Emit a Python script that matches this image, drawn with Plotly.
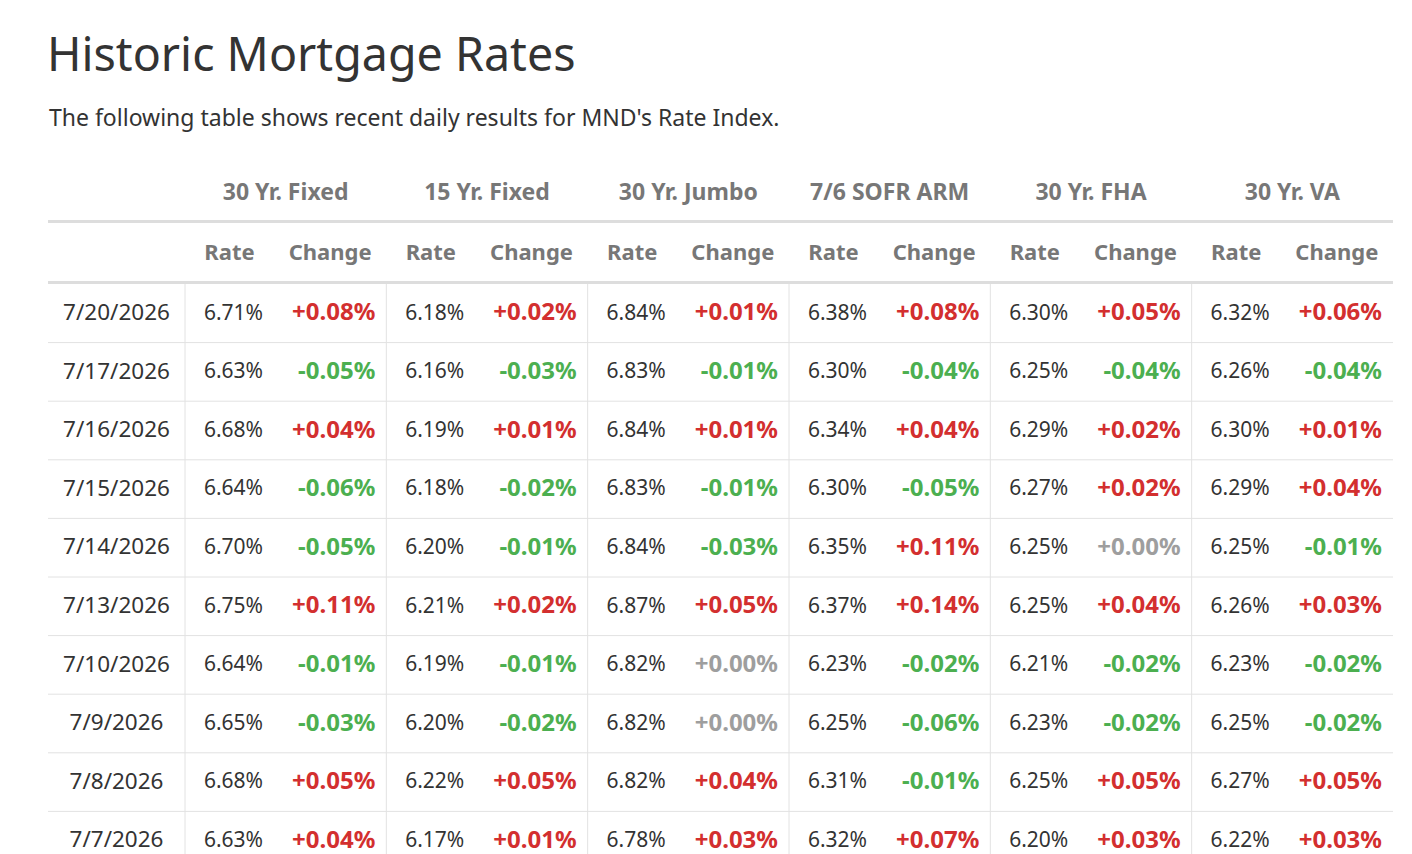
import plotly.graph_objects as go

dates = ["7/20/2026", "7/17/2026", "7/16/2026", "7/15/2026", "7/14/2026",
         "7/13/2026", "7/10/2026", "7/9/2026", "7/8/2026", "7/7/2026"]

products = ["30 Yr. Fixed", "15 Yr. Fixed", "30 Yr. Jumbo",
            "7/6 SOFR ARM", "30 Yr. FHA", "30 Yr. VA"]

rate_30_fixed = [6.71, 6.63, 6.68, 6.64, 6.70, 6.75, 6.64, 6.65, 6.68, 6.63]
chg_30_fixed = [0.08, -0.05, 0.04, -0.06, -0.05, 0.11, -0.01, -0.03, 0.05, 0.04]

rate_15_fixed = [6.18, 6.16, 6.19, 6.18, 6.20, 6.21, 6.19, 6.20, 6.22, 6.17]
chg_15_fixed = [0.02, -0.03, 0.01, -0.02, -0.01, 0.02, -0.01, -0.02, 0.05, 0.01]

rate_jumbo = [6.84, 6.83, 6.84, 6.83, 6.84, 6.87, 6.82, 6.82, 6.82, 6.78]
chg_jumbo = [0.01, -0.01, 0.01, -0.01, -0.03, 0.05, 0.00, 0.00, 0.04, 0.03]

rate_arm = [6.38, 6.30, 6.34, 6.30, 6.35, 6.37, 6.23, 6.25, 6.31, 6.32]
chg_arm = [0.08, -0.04, 0.04, -0.05, 0.11, 0.14, -0.02, -0.06, -0.01, 0.07]

rate_fha = [6.30, 6.25, 6.29, 6.27, 6.25, 6.25, 6.21, 6.23, 6.25, 6.20]
chg_fha = [0.05, -0.04, 0.02, 0.02, 0.00, 0.04, -0.02, -0.02, 0.05, 0.03]

rate_va = [6.32, 6.26, 6.30, 6.29, 6.25, 6.26, 6.23, 6.25, 6.27, 6.22]
chg_va = [0.06, -0.04, 0.01, 0.04, -0.01, 0.03, -0.02, -0.02, 0.05, 0.03]

rates = [rate_30_fixed, rate_15_fixed, rate_jumbo, rate_arm, rate_fha, rate_va]
changes = [chg_30_fixed, chg_15_fixed, chg_jumbo, chg_arm, chg_fha, chg_va]

sub_headers = ["Rate", "Change"]

# page geometry (screen pixels; the page body adds an 8px offset)
W, H = 1412, 854
OFF = 8
left, right = 48, 1393
date_w = 137
group_w = (right - left - date_w) / len(products)
rate_w = 89
pad = 11
row_top = 284
row_h = 58.6
grp_y, sub_y = 193, 253
nudge = 1  # text sits a little high in its box

FONT = "Noto Sans"
RED, GREEN, GREY = "#d32f2f", "#4caf50", "#9e9e9e"
TXT, HEAD = "#333333", "#777777"
LINE = "#e2e2e2"


def change_color(v):
    if v > 0:
        return RED
    if v < 0:
        return GREEN
    return GREY


row_y = [row_top + row_h * i + row_h / 2 + nudge for i in range(len(dates))]

fig = go.Figure()

# date column
fig.add_trace(go.Scatter(
    x=[left + date_w / 2] * len(dates), y=row_y, text=dates,
    mode="text", textposition="middle center",
    textfont=dict(family=FONT, size=22.5, color=TXT)))

for g, prod in enumerate(products):
    g0 = left + date_w + group_w * g
    # rate column, right aligned
    fig.add_trace(go.Scatter(
        x=[g0 + rate_w - pad] * len(dates), y=row_y,
        text=[f"{v:.2f}%" for v in rates[g]],
        mode="text", textposition="middle left",
        textfont=dict(family=FONT, size=21, color=TXT)))
    # change column, right aligned, coloured by sign
    fig.add_trace(go.Scatter(
        x=[g0 + group_w - pad] * len(dates), y=row_y,
        text=[f"<b>{v:+.2f}%</b>" for v in changes[g]],
        mode="text", textposition="middle left",
        textfont=dict(family=FONT, size=24,
                      color=[change_color(v) for v in changes[g]])))
    # header texts
    fig.add_trace(go.Scatter(
        x=[g0 + group_w / 2], y=[grp_y + nudge], text=[f"<b>{prod}</b>"],
        mode="text", textposition="middle center",
        textfont=dict(family=FONT, size=23, color=HEAD)))
    fig.add_trace(go.Scatter(
        x=[g0 + rate_w / 2, g0 + rate_w + (group_w - rate_w) / 2],
        y=[sub_y + nudge] * 2,
        text=[f"<b>{s}</b>" for s in sub_headers],
        mode="text", textposition="middle center",
        textfont=dict(family=FONT, size=22, color=HEAD)))

shapes = []
# heavy header rules
for yy in [221.5, 282.5]:
    shapes.append(dict(type="line", x0=left, x1=right, y0=yy, y1=yy,
                       xref="x", yref="y", line=dict(color="#dddddd", width=3)))
# row separators
for i in range(1, len(dates)):
    yy = row_top + row_h * i
    shapes.append(dict(type="line", x0=left, x1=right, y0=yy, y1=yy,
                       xref="x", yref="y", line=dict(color=LINE, width=1)))
# group separators
for g in range(len(products)):
    xx = left + date_w + group_w * g
    shapes.append(dict(type="line", x0=xx, x1=xx, y0=row_top, y1=H + OFF,
                       xref="x", yref="y", line=dict(color=LINE, width=1)))

annotations = [
    dict(text="Historic Mortgage Rates", x=left - 3, y=53, xref="x", yref="y",
         xanchor="left", yanchor="middle", showarrow=False,
         font=dict(family=FONT, size=46.6, color=TXT)),
    dict(text="The following table shows recent daily results for MND's Rate Index.",
         x=left - 1, y=117, xref="x", yref="y", xanchor="left", yanchor="middle",
         showarrow=False, font=dict(family=FONT, size=23, color=TXT)),
]

fig.update_layout(
    width=W, height=H,
    margin=dict(l=0, r=0, t=0, b=0),
    paper_bgcolor="white", plot_bgcolor="white",
    showlegend=False, hovermode=False,
    xaxis=dict(range=[OFF, W + OFF], visible=False, fixedrange=True),
    yaxis=dict(range=[H + OFF, OFF], visible=False, fixedrange=True),
    shapes=shapes, annotations=annotations,
)

fig.write_html("out.html")
